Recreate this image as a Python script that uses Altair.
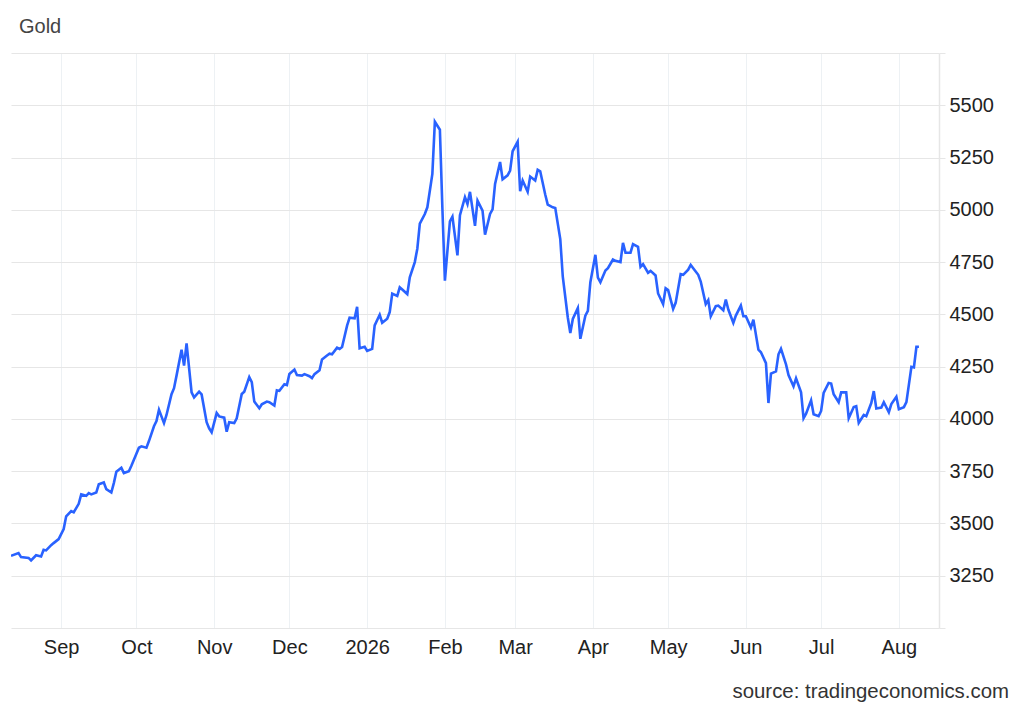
import altair as alt
import pandas as pd

dates = [
    "2025-08-12", "2025-08-15", "2025-08-16", "2025-08-19", "2025-08-20", "2025-08-22", "2025-08-24",
    "2025-08-25", "2025-08-26", "2025-08-28", "2025-08-29", "2025-08-31",
    "2025-09-02", "2025-09-03", "2025-09-05", "2025-09-06", "2025-09-08", "2025-09-09", "2025-09-11",
    "2025-09-12", "2025-09-13", "2025-09-15", "2025-09-16", "2025-09-18", "2025-09-19", "2025-09-21",
    "2025-09-22", "2025-09-23", "2025-09-25", "2025-09-26", "2025-09-28", "2025-09-29",
    "2025-10-01", "2025-10-02", "2025-10-03", "2025-10-05", "2025-10-06", "2025-10-08", "2025-10-09",
    "2025-10-10", "2025-10-12", "2025-10-13", "2025-10-15", "2025-10-16", "2025-10-17", "2025-10-19",
    "2025-10-20", "2025-10-21", "2025-10-23", "2025-10-24", "2025-10-26", "2025-10-27", "2025-10-29",
    "2025-10-30", "2025-10-31",
    "2025-11-02", "2025-11-03", "2025-11-05", "2025-11-06", "2025-11-07", "2025-11-09", "2025-11-10",
    "2025-11-12", "2025-11-13", "2025-11-15", "2025-11-16", "2025-11-17", "2025-11-19", "2025-11-20",
    "2025-11-22", "2025-11-23", "2025-11-25", "2025-11-26", "2025-11-27", "2025-11-29", "2025-11-30",
    "2025-12-01", "2025-12-03", "2025-12-04", "2025-12-06", "2025-12-07", "2025-12-09", "2025-12-10",
    "2025-12-11", "2025-12-13", "2025-12-14", "2025-12-16", "2025-12-17", "2025-12-18", "2025-12-20",
    "2025-12-21", "2025-12-22", "2025-12-24", "2025-12-25", "2025-12-27", "2025-12-28", "2025-12-29",
    "2025-12-31",
    "2026-01-01", "2026-01-03", "2026-01-04", "2026-01-06", "2026-01-07", "2026-01-09", "2026-01-10",
    "2026-01-11", "2026-01-13", "2026-01-14", "2026-01-15", "2026-01-17", "2026-01-18", "2026-01-20",
    "2026-01-21", "2026-01-22", "2026-01-24", "2026-01-25", "2026-01-27", "2026-01-28", "2026-01-30",
    "2026-01-31",
    "2026-02-01", "2026-02-03", "2026-02-04", "2026-02-06", "2026-02-07", "2026-02-09", "2026-02-10",
    "2026-02-11", "2026-02-13", "2026-02-14", "2026-02-16", "2026-02-17", "2026-02-19", "2026-02-20",
    "2026-02-21", "2026-02-23", "2026-02-24", "2026-02-26", "2026-02-27", "2026-02-28",
    "2026-03-02", "2026-03-03", "2026-03-04", "2026-03-06", "2026-03-07", "2026-03-09", "2026-03-10",
    "2026-03-11", "2026-03-13", "2026-03-14", "2026-03-16", "2026-03-17", "2026-03-19", "2026-03-20",
    "2026-03-22", "2026-03-23", "2026-03-24", "2026-03-26", "2026-03-27", "2026-03-29", "2026-03-30",
    "2026-03-31",
    "2026-04-02", "2026-04-03", "2026-04-04", "2026-04-06", "2026-04-07", "2026-04-09", "2026-04-10",
    "2026-04-12", "2026-04-13", "2026-04-14", "2026-04-16", "2026-04-17", "2026-04-19", "2026-04-20",
    "2026-04-21", "2026-04-23", "2026-04-24", "2026-04-26", "2026-04-27", "2026-04-29", "2026-04-30",
    "2026-05-01", "2026-05-03", "2026-05-04", "2026-05-06", "2026-05-07", "2026-05-09", "2026-05-10",
    "2026-05-11", "2026-05-13", "2026-05-14", "2026-05-16", "2026-05-17", "2026-05-18", "2026-05-20",
    "2026-05-21", "2026-05-23", "2026-05-24", "2026-05-25", "2026-05-27", "2026-05-28", "2026-05-30",
    "2026-05-31",
    "2026-06-01", "2026-06-03", "2026-06-04", "2026-06-06", "2026-06-07", "2026-06-09", "2026-06-10",
    "2026-06-11", "2026-06-13", "2026-06-14", "2026-06-15", "2026-06-17", "2026-06-18", "2026-06-20",
    "2026-06-21", "2026-06-23", "2026-06-24", "2026-06-25", "2026-06-27", "2026-06-28", "2026-06-30",
    "2026-07-01", "2026-07-02", "2026-07-04", "2026-07-05", "2026-07-06", "2026-07-08", "2026-07-09",
    "2026-07-11", "2026-07-12", "2026-07-14", "2026-07-15", "2026-07-16", "2026-07-18", "2026-07-19",
    "2026-07-21", "2026-07-22", "2026-07-23", "2026-07-25", "2026-07-26", "2026-07-28", "2026-07-29",
    "2026-07-31",
    "2026-08-01", "2026-08-03", "2026-08-04", "2026-08-06", "2026-08-07", "2026-08-08", "2026-08-09",
]

prices = [
    3345, 3358, 3339, 3335, 3323, 3348, 3342,
    3374, 3371, 3396, 3406, 3425,
    3473, 3534, 3559, 3553, 3594, 3639, 3632,
    3645, 3639, 3648, 3687, 3696, 3664, 3648,
    3693, 3747, 3766, 3741, 3750, 3776,
    3833, 3862, 3869, 3862, 3894, 3965, 3990,
    4044, 3980, 4019, 4118, 4147, 4207, 4331,
    4255, 4361, 4127, 4103, 4130, 4117, 3984,
    3955, 3936,
    4028, 4012, 4006, 3939, 3984, 3980, 4003,
    4119, 4130, 4200, 4176, 4083, 4051, 4070,
    4083, 4080, 4064, 4137, 4134, 4166, 4162,
    4215, 4236, 4210, 4207, 4214, 4204, 4195,
    4214, 4233, 4284, 4303, 4312, 4309, 4341,
    4335, 4344, 4446, 4484, 4481, 4536, 4338,
    4345,
    4325, 4335, 4447, 4498, 4460, 4479, 4511,
    4599, 4588, 4629, 4619, 4597, 4677, 4750,
    4814, 4934, 4980, 5012, 5172, 5421, 5383,
    5006,
    4661, 4945, 4967, 4782, 4974, 5060, 5028,
    5086, 4923, 5044, 4996, 4881, 4980, 5002,
    5124, 5229, 5146, 5165, 5188, 5280,
    5325, 5089, 5140, 5086, 5159, 5140, 5191,
    5184, 5073, 5025, 5012, 5009, 4860, 4680,
    4485, 4411, 4478, 4530, 4383, 4494, 4517,
    4654,
    4785, 4676, 4654, 4710, 4721, 4762, 4756,
    4750, 4842, 4795, 4795, 4836, 4823, 4727,
    4740, 4699, 4708, 4686, 4600, 4549, 4625,
    4616, 4526, 4555, 4692, 4689, 4714, 4737,
    4721, 4689, 4657, 4549, 4568, 4491, 4539,
    4542, 4520, 4571, 4523, 4459, 4494, 4542,
    4491,
    4491, 4437, 4475, 4331, 4319, 4267, 4076,
    4217, 4227, 4309, 4335, 4261, 4210, 4156,
    4194, 4127, 4003, 4025, 4089, 4022, 4013,
    4038, 4124, 4172, 4169, 4118, 4080, 4127,
    4127, 4003, 4057, 4061, 3981, 4019, 4013,
    4076, 4133, 4050, 4054, 4080, 4032, 4071,
    4106,
    4046, 4056, 4080, 4249, 4246, 4345, 4345,
]

# month gridline / tick positions (year, month)
tick_months = [(2025, 9), (2025, 10), (2025, 11), (2025, 12), (2026, 1), (2026, 2),
               (2026, 3), (2026, 4), (2026, 5), (2026, 6), (2026, 7), (2026, 8)]
y_ticks = [3000, 3250, 3500, 3750, 4000, 4250, 4500, 4750, 5000, 5250, 5500, 5750]

title_text = "Gold"
source_text = "source: tradingeconomics.com"

FONT = "Liberation Sans, Arial, Helvetica, sans-serif"

df = pd.DataFrame({"date": dates, "price": prices})

x_domain = [alt.DateTime(year=2025, month=8, date=12, utc=True),
            alt.DateTime(year=2026, month=8, date=17, utc=True)]
x_values = [alt.DateTime(year=y, month=m, date=1, utc=True) for y, m in tick_months]

line = alt.Chart(df).mark_line(color="#2962ff", strokeWidth=2.6, clip=True).encode(
    x=alt.X(
        "date:T",
        scale=alt.Scale(type="utc", domain=x_domain),
        axis=alt.Axis(
            values=x_values,
            labelExpr="utcFormat(datum.value, '%m') == '01' ? utcFormat(datum.value, '%Y') : utcFormat(datum.value, '%b')",
            title=None,
            domain=False,
            ticks=False,
            grid=True,
            gridColor="#edf1f4",
            gridWidth=1,
            labelFont=FONT,
            labelFontSize=20,
            labelColor="#222222",
            labelPadding=9,
            labelAlign="center",
        ),
    ),
    y=alt.Y(
        "price:Q",
        scale=alt.Scale(domain=[3000, 5750], nice=False, zero=False),
        axis=alt.Axis(
            orient="right",
            values=y_ticks,
            format="d",
            labelExpr="datum.value == 3000 || datum.value == 5750 ? '' : datum.label",
            title=None,
            domain=True,
            domainColor="#e6e6e6",
            domainWidth=1.5,
            ticks=True,
            tickColor="#e6e6e6",
            tickSize=6,
            grid=True,
            gridColor="#e6e6e6",
            gridWidth=1.2,
            labelFont=FONT,
            labelFontSize=20,
            labelColor="#222222",
            labelPadding=4,
            labelBaseline="middle",
        ),
    ),
)

title_layer = alt.Chart(pd.DataFrame({"t": [title_text]})).mark_text(
    align="left", baseline="middle", font=FONT, fontSize=20, color="#444444"
).encode(x=alt.value(8), y=alt.value(-26), text="t:N")

source_layer = alt.Chart(pd.DataFrame({"t": [source_text]})).mark_text(
    align="right", baseline="alphabetic", font=FONT, fontSize=20.4, color="#333333"
).encode(x=alt.value(998), y=alt.value(645), text="t:N")

chart = alt.layer(line, title_layer, source_layer).properties(
    width=928,
    height=575,
    autosize=alt.AutoSizeParams(type="none"),
    padding={"left": 3, "top": 45, "right": 77, "bottom": 74},
    background="white",
).configure_view(strokeWidth=0)

chart.save("out.html", embed_options={"renderer": "svg", "actions": False})
